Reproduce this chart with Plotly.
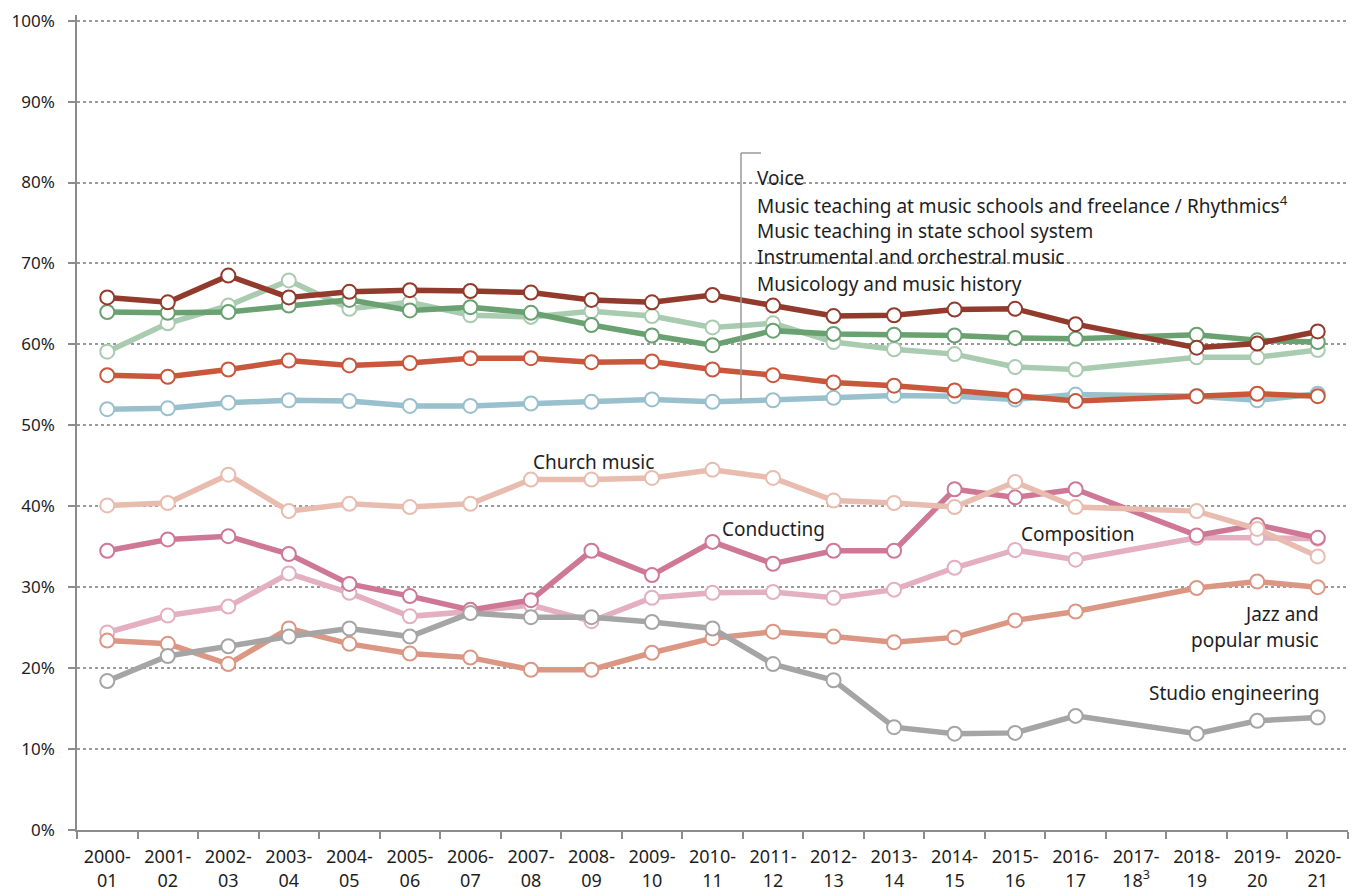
import plotly.graph_objects as go

periods = ["2000-01", "2001-02", "2002-03", "2003-04", "2004-05", "2005-06", "2006-07",
           "2007-08", "2008-09", "2009-10", "2010-11", "2011-12", "2012-13", "2013-14",
           "2014-15", "2015-16", "2016-17", "2017-18", "2018-19", "2019-20", "2020-21"]
tick_labels = ["2000-<br>01", "2001-<br>02", "2002-<br>03", "2003-<br>04", "2004-<br>05",
               "2005-<br>06", "2006-<br>07", "2007-<br>08", "2008-<br>09", "2009-<br>10",
               "2010-<br>11", "2011-<br>12", "2012-<br>13", "2013-<br>14", "2014-<br>15",
               "2015-<br>16", "2016-<br>17", "2017-<br>18<sup>3</sup>", "2018-<br>19",
               "2019-<br>20", "2020-<br>21"]

voice = [65.8, 65.2, 68.5, 65.8, 66.5, 66.7, 66.6, 66.4, 65.5, 65.2, 66.1, 64.8, 63.5, 63.6,
         64.3, 64.4, 62.5, None, 59.6, 60.1, 61.6]
teaching_music_schools = [64.0, 63.9, 64.0, 64.8, 65.5, 64.2, 64.6, 63.9, 62.4, 61.1, 59.9,
                          61.7, 61.3, 61.2, 61.1, 60.8, 60.7, None, 61.2, 60.5, 60.3]
teaching_state_schools = [59.1, 62.6, 64.8, 67.9, 64.4, 65.2, 63.6, 63.4, 64.1, 63.5, 62.1,
                          62.6, 60.3, 59.4, 58.8, 57.2, 56.9, None, 58.4, 58.4, 59.3]
instrumental = [56.2, 56.0, 56.9, 58.0, 57.4, 57.7, 58.3, 58.3, 57.8, 57.9, 56.9, 56.2, 55.3,
                54.9, 54.3, 53.6, 53.0, None, 53.6, 53.9, 53.6]
musicology = [52.0, 52.1, 52.8, 53.1, 53.0, 52.4, 52.4, 52.7, 52.9, 53.2, 52.9, 53.1, 53.4,
              53.7, 53.6, 53.2, 53.8, None, 53.6, 53.1, 53.9]
church_music = [40.1, 40.4, 43.9, 39.4, 40.3, 39.9, 40.3, 43.3, 43.3, 43.5, 44.5, 43.5, 40.7,
                40.4, 39.9, 43.0, 39.9, None, 39.4, 37.2, 33.8]
conducting = [34.5, 35.9, 36.3, 34.1, 30.4, 28.9, 27.2, 28.4, 34.5, 31.5, 35.6, 32.9, 34.5,
              34.5, 42.1, 41.1, 42.1, None, 36.4, 37.7, 36.1]
composition = [24.4, 26.5, 27.6, 31.7, 29.3, 26.4, 27.0, 27.8, 25.8, 28.7, 29.3, 29.4, 28.7,
               29.7, 32.4, 34.6, 33.4, None, 36.1, 36.1, 36.0]
jazz_popular = [23.4, 23.0, 20.5, 24.9, 23.0, 21.8, 21.3, 19.8, 19.8, 21.9, 23.7, 24.5, 23.9,
                23.2, 23.8, 25.9, 27.0, None, 29.9, 30.7, 30.0]
studio_engineering = [18.4, 21.5, 22.7, 23.9, 24.9, 23.9, 26.8, 26.3, 26.3, 25.7, 24.9, 20.5,
                      18.5, 12.7, 11.9, 12.0, 14.1, None, 11.9, 13.5, 13.9]

y_ticks = [0, 10, 20, 30, 40, 50, 60, 70, 80, 90, 100]
y_tick_labels = ["0%", "10%", "20%", "30%", "40%", "50%", "60%", "70%", "80%", "90%", "100%"]

legend_names = ["Voice",
                "Music teaching at music schools and freelance / Rhythmics<sup>4</sup>",
                "Music teaching in state school system",
                "Instrumental and orchestral music",
                "Musicology and music history"]

# draw order: first drawn is at the bottom
series = [
    ("Composition", composition, "#e3afc1"),
    ("Jazz and popular music", jazz_popular, "#dc9684"),
    ("Conducting", conducting, "#cf7896"),
    ("Church music", church_music, "#e9bcb0"),
    ("Studio engineering", studio_engineering, "#a5a5a5"),
    ("Musicology and music history", musicology, "#99c0cd"),
    ("Instrumental and orchestral music", instrumental, "#c9573c"),
    ("Music teaching in state school system", teaching_state_schools, "#a9cbb0"),
    ("Music teaching at music schools and freelance / Rhythmics", teaching_music_schools, "#69a171"),
    ("Voice", voice, "#923a2b"),
]

x_idx = list(range(len(periods)))
FONT = "Noto Sans"
TXT = "#1e1e1e"

fig = go.Figure()
for name, vals, col in series:
    fig.add_trace(go.Scatter(
        x=x_idx, y=vals, name=name, mode="lines+markers", connectgaps=True,
        line=dict(color=col, width=5.5),
        marker=dict(size=14, color="white", line=dict(color=col, width=2)),
        hoverinfo="skip", showlegend=False,
    ))

# page body adds an 8px offset; figure sized to fit the window
OFF = 8
FW, FH = 1360 - OFF, 893 - OFF
ML, MR, MT, MB = 77 - OFF, 12, 15 - OFF, 63
fig.update_layout(
    width=FW, height=FH,
    margin=dict(l=ML, r=MR, t=MT, b=MB, autoexpand=False),
    paper_bgcolor="white", plot_bgcolor="white",
    font=dict(family=FONT, size=17, color=TXT),
    showlegend=False,
)
fig.update_xaxes(
    range=[-0.5, 20.5], tickmode="array", tickvals=x_idx, ticktext=tick_labels,
    ticks="", showgrid=False, zeroline=False, automargin=False,
    showline=True, linecolor="#8c8c8c", linewidth=1.5,
    tickfont=dict(family=FONT, size=18, color=TXT),
    ticklabelstandoff=10,
    minor=dict(tickvals=[i - 0.5 for i in range(len(periods) + 1)], ticks="outside",
               ticklen=7, tickcolor="#8c8c8c", tickwidth=1.5, showgrid=False),
)
fig.update_yaxes(
    range=[0, 100.7], tickmode="array", tickvals=y_ticks, ticktext=y_tick_labels,
    ticks="outside", ticklen=7, tickcolor="#8c8c8c", tickwidth=1.5,
    showgrid=True, gridcolor="#9a9a9a", griddash="dot", gridwidth=1.5,
    zeroline=False, showline=True, linecolor="#8c8c8c", linewidth=1.5, automargin=False,
    tickfont=dict(family=FONT, size=17, color=TXT), ticklabelstandoff=10,
)

# helpers: screenshot pixel -> paper coordinates
W, H = FW - ML - MR, FH - MT - MB
def px(x):
    return (x - OFF - ML) / W
def py(y):
    return (FH - MB - (y - OFF)) / H

fig.add_shape(type="line", xref="paper", yref="paper", x0=px(741), x1=px(741),
              y0=py(153), y1=py(400), line=dict(color="#9a9a9a", width=1.5))
fig.add_shape(type="line", xref="paper", yref="paper", x0=px(741), x1=px(761),
              y0=py(153), y1=py(153), line=dict(color="#9a9a9a", width=1.5))

for i, t in enumerate(legend_names):
    fig.add_annotation(xref="paper", yref="paper", x=px(755), y=py(178 + i * 26.5),
                       text=t, showarrow=False, xanchor="left", yanchor="middle",
                       font=dict(family=FONT, size=19, color=TXT))

labels = [
    ("Church music", 593, 462, "center"),
    ("Conducting", 773, 529, "center"),
    ("Composition", 1077, 534, "center"),
    ("Jazz and", 1321, 614, "right"),
    ("popular music", 1321, 640, "right"),
    ("Studio engineering", 1321, 693, "right"),
]
for t, x, y, anc in labels:
    fig.add_annotation(xref="paper", yref="paper", x=px(x), y=py(y), text=t,
                       showarrow=False, xanchor=anc, yanchor="middle",
                       font=dict(family=FONT, size=19, color=TXT))

fig.write_html("out.html")
